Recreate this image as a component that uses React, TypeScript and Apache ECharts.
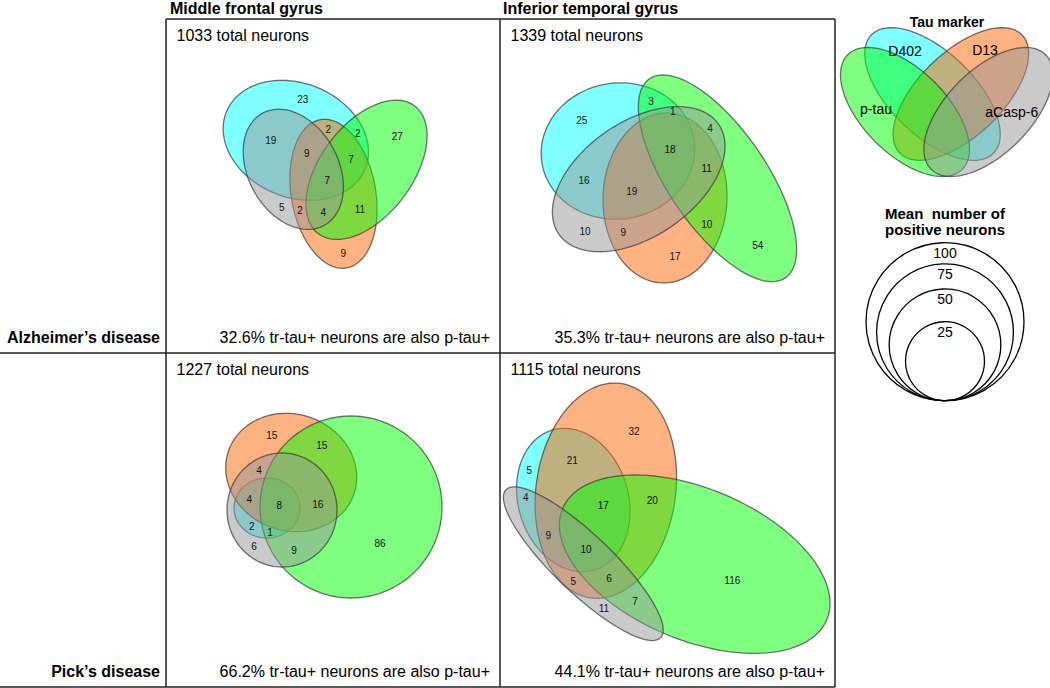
import React, { useEffect, useRef } from "react";
import * as echarts from "echarts";

const FONT = "'Liberation Sans', Arial, Helvetica, sans-serif";

// ---- data ----
const markers = ["D402", "D13", "p-tau", "aCasp-6"];
const markerFills = [
  "rgba(0,255,255,0.5)",
  "rgba(255,100,0,0.5)",
  "rgba(0,255,0,0.5)",
  "rgba(150,150,150,0.5)",
];

const regionTitles = ["Middle frontal gyrus", "Inferior temporal gyrus"];
const diseaseLabels = ["Alzheimer’s disease", "Pick’s disease"];
const totalNeurons = [1033, 1339, 1227, 1115];
const pctTrTauAlsoPTau = [32.6, 35.3, 66.2, 44.1];

// ellipses per panel (D402, D13, p-tau, aCasp-6): [cx, cy, rx, ry, angleDeg]
const ellAD_MFG = [
  [295.8, 140.3, 75, 57, 22.5],
  [333.5, 193.8, 75.3, 42.2, 80],
  [366.5, 169.8, 80, 46, -53],
  [293.3, 169.3, 64, 45, 61],
];
const ellAD_ITG = [
  [618, 151, 77, 68, -8],
  [665, 198, 85, 62, 92],
  [717.5, 178.3, 120.5, 49.2, 55.7],
  [638.7, 179.2, 97, 57.5, -34.5],
];
const ellPiD_MFG = [
  [267, 508, 33, 30, 0],
  [291.2, 472.5, 66.3, 58.3, 19],
  [351, 507, 91, 91, 0],
  [282, 510, 57, 55, 90],
];
const ellPiD_ITG = [
  [573.3, 500, 73, 55, 73],
  [605.8, 490.7, 108.3, 69.8, -82],
  [694.7, 564.2, 143.3, 75.7, 22.8],
  [583.3, 563.7, 107, 29, 43.7],
];
const ellLegend = [
  [932.5, 94, 85, 42, 44],
  [960.9, 94, 85, 42, -44],
  [905, 112, 81, 42, 45],
  [988.4, 112, 81, 42, -45],
];

// region counts and where they sit
const cntAD_MFG = [23, 2, 2, 27, 19, 9, 7, 7, 5, 2, 4, 11, 9];
const posAD_MFG = [
  [302.7, 99.3], [328.3, 129.3], [357.7, 133.3], [397.3, 136.7], [270.7, 140.7],
  [306.7, 153.3], [351, 159], [327.3, 180], [281.7, 207.3], [300, 210],
  [323.3, 212.7], [360, 209.3], [343.3, 253.3],
];
const cntAD_ITG = [25, 3, 1, 4, 18, 11, 16, 19, 10, 9, 10, 17, 54];
const posAD_ITG = [
  [581.7, 120.7], [651, 101.7], [672.7, 111.7], [710, 128.3], [670, 149],
  [706.7, 168.3], [584, 180.7], [631.7, 191.7], [585, 231.7], [623.3, 232.7],
  [706.7, 224], [675, 256.7], [757.7, 245],
];
const cntPiD_MFG = [15, 15, 4, 4, 8, 16, 2, 1, 6, 9, 86];
const posPiD_MFG = [
  [271.7, 435.7], [321.7, 445], [259, 470], [249.3, 499], [279.3, 505.7],
  [317.7, 504.3], [251.7, 526], [270, 532.7], [254, 546.7], [294, 550], [380, 543.3],
];
const cntPiD_ITG = [32, 5, 21, 4, 17, 20, 9, 10, 5, 6, 7, 11, 116];
const posPiD_ITG = [
  [634, 431.7], [529.3, 470], [572.3, 460.7], [525.7, 497.7], [603.3, 505],
  [652.3, 500], [548.3, 535], [586, 549.3], [573.3, 581.7], [609, 578.3],
  [635, 601.7], [604, 608.3], [732.3, 580.7],
];

const sizeLegendValues = [100, 75, 50, 25];

// ---- layout ----
const PX = [166, 500, 835];
const PY = [19, 353, 687];
const SIZE_K = 7.9;
const SIZE_BASE = [945, 400.7];

function buildEllipseData() {
  const all = [ellAD_MFG, ellAD_ITG, ellPiD_MFG, ellPiD_ITG, ellLegend];
  const out: number[][] = [];
  all.forEach((set) => set.forEach((e, i) => out.push([...e, i])));
  return out;
}

function buildCountData() {
  const pairs: [number[], number[][]][] = [
    [cntAD_MFG, posAD_MFG],
    [cntAD_ITG, posAD_ITG],
    [cntPiD_MFG, posPiD_MFG],
    [cntPiD_ITG, posPiD_ITG],
  ];
  const out: number[][] = [];
  pairs.forEach(([c, p]) => c.forEach((v, i) => out.push([p[i][0], p[i][1], v])));
  return out;
}

function ellipseItem(params: any, api: any) {
  const cx = api.value(0);
  const cy = api.value(1);
  const rx = api.value(2);
  const ry = api.value(3);
  const ang = (api.value(4) * Math.PI) / 180;
  const ci = api.value(5);
  const pts: number[][] = [];
  const N = 120;
  for (let k = 0; k < N; k++) {
    const t = (k / N) * Math.PI * 2;
    const ex = rx * Math.cos(t);
    const ey = ry * Math.sin(t);
    pts.push(
      api.coord([
        cx + ex * Math.cos(ang) - ey * Math.sin(ang),
        cy + ex * Math.sin(ang) + ey * Math.cos(ang),
      ])
    );
  }
  return {
    type: "polygon",
    shape: { points: pts },
    style: { fill: markerFills[ci], stroke: "rgba(55,55,55,0.7)", lineWidth: 1.3 },
  };
}

function countItem(params: any, api: any) {
  const p = api.coord([api.value(0), api.value(1)]);
  return {
    type: "text",
    style: {
      text: String(api.value(2)),
      x: p[0],
      y: p[1],
      align: "center",
      verticalAlign: "middle",
      textAlign: "center",
      textVerticalAlign: "middle",
      fontSize: 10,
      fontFamily: FONT,
      fill: "#111",
    },
  };
}

function sizeItem(params: any, api: any) {
  const v = api.value(2);
  const base = api.coord([api.value(0), api.value(1)]);
  const r = api.size([SIZE_K * Math.sqrt(v), SIZE_K * Math.sqrt(v)])[1];
  return {
    type: "group",
    children: [
      {
        type: "circle",
        shape: { cx: base[0], cy: base[1] - r, r },
        style: { fill: "none", stroke: "#000", lineWidth: 1.3 },
      },
      {
        type: "text",
        style: {
          text: String(v),
          x: base[0],
          y: base[1] - 2 * r + 10.5,
          align: "center",
          verticalAlign: "middle",
          textAlign: "center",
          textVerticalAlign: "middle",
          fontSize: 14,
          fontFamily: FONT,
          fill: "#000",
        },
      },
    ],
  };
}

function txt(text: string, x: number, y: number, size: number, bold: boolean, align = "left") {
  return {
    type: "text",
    x,
    y,
    style: {
      text,
      fontSize: size,
      fontWeight: bold ? "bold" : "normal",
      fontFamily: FONT,
      fill: "#000",
      textAlign: align,
      textVerticalAlign: "middle",
    },
    z: 10,
  };
}

function line(x1: number, y1: number, x2: number, y2: number) {
  return {
    type: "line",
    shape: { x1, y1, x2, y2 },
    style: { stroke: "#222", lineWidth: 1.5 },
    z: 10,
  };
}

function buildGraphic() {
  const els: any[] = [];
  // frame
  els.push(line(PX[0], PY[0], PX[2], PY[0]));
  els.push(line(0, PY[1], PX[2], PY[1]));
  els.push(line(0, PY[2], PX[2], PY[2]));
  PX.forEach((x) => els.push(line(x, PY[0], x, PY[2])));
  // column titles
  els.push(txt(regionTitles[0], PX[0] + 4, 8.5, 16, true));
  els.push(txt(regionTitles[1], PX[1] + 3, 8.5, 16, true));
  // row labels
  els.push(txt(diseaseLabels[0], 160, PY[1] - 15.6, 16, true, "right"));
  els.push(txt(diseaseLabels[1], 160, PY[2] - 15.6, 16, true, "right"));
  // panel texts
  for (let r = 0; r < 2; r++) {
    for (let c = 0; c < 2; c++) {
      const i = r * 2 + c;
      els.push(txt(`${totalNeurons[i]} total neurons`, PX[c] + 10.5, PY[r] + 16.4, 16, false));
      els.push(
        txt(
          `${pctTrTauAlsoPTau[i].toFixed(1)}% tr-tau+ neurons are also p-tau+`,
          PX[c + 1] - 10,
          PY[r + 1] - 15.6,
          16,
          false,
          "right"
        )
      );
    }
  }
  // marker legend
  els.push(txt("Tau marker", 947, 22.4, 14, true, "center"));
  const labelPos = [
    [905, 50.7],
    [985, 50],
    [876, 109],
    [1011.7, 112.3],
  ];
  markers.forEach((m, i) => els.push(txt(m, labelPos[i][0], labelPos[i][1], 14, false, "center")));
  // size legend titles
  els.push(txt("Mean  number of", 945, 213, 15, true, "center"));
  els.push(txt("positive neurons", 945, 229.7, 15, true, "center"));
  return els;
}

export default function App() {
  const ref = useRef<HTMLDivElement>(null);
  useEffect(() => {
    if (!ref.current) return;
    const chart = echarts.init(ref.current, undefined, { renderer: "svg" });
    chart.setOption({
      animation: false,
      backgroundColor: "#fff",
      grid: { left: 0, top: 0, right: 0, bottom: 0 },
      xAxis: { type: "value", min: 0, max: 1050, show: false },
      yAxis: { type: "value", min: 0, max: 688, inverse: true, show: false },
      series: [
        {
          type: "custom",
          renderItem: ellipseItem,
          data: buildEllipseData(),
          silent: true,
          z: 2,
        },
        {
          type: "custom",
          renderItem: countItem,
          data: buildCountData(),
          silent: true,
          z: 3,
        },
        {
          type: "custom",
          renderItem: sizeItem,
          data: sizeLegendValues.map((v) => [SIZE_BASE[0], SIZE_BASE[1], v]),
          silent: true,
          z: 3,
        },
      ],
      graphic: { elements: buildGraphic() },
    });
    return () => chart.dispose();
  }, []);
  return (
    <div
      ref={ref}
      style={{ position: "fixed", left: 0, top: 0, width: 1050, height: 688, background: "#fff" }}
    />
  );
}
